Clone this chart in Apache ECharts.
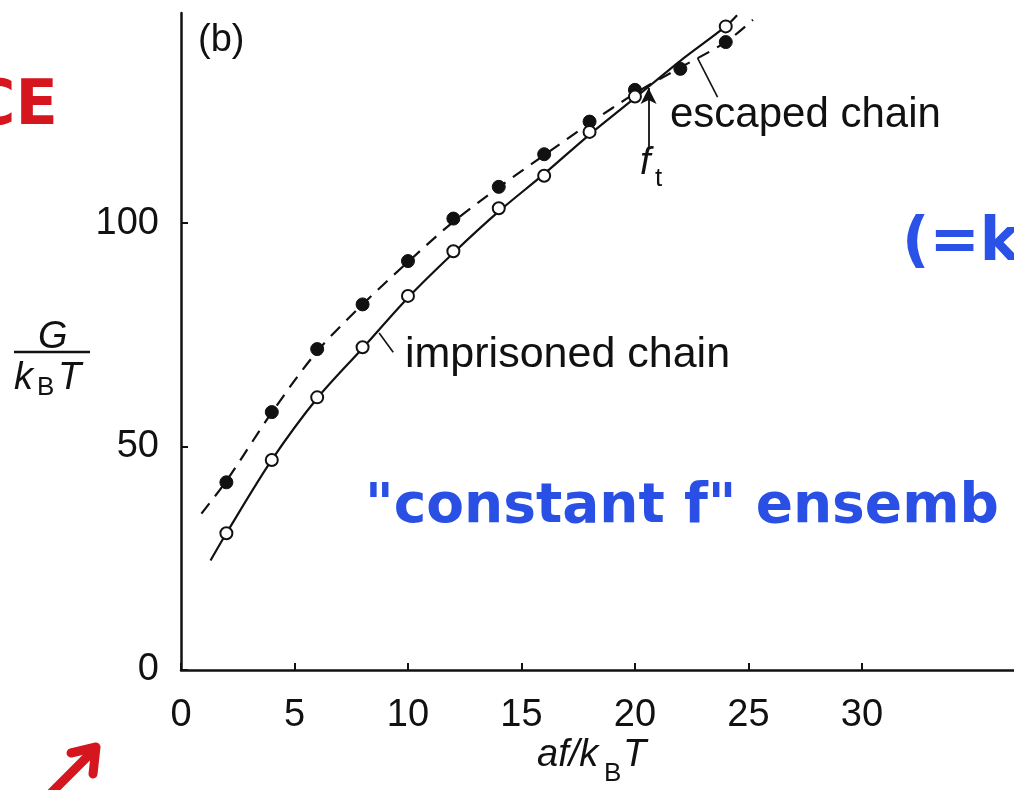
<!DOCTYPE html>
<html><head><meta charset="utf-8">
<script src="https://cdn.jsdelivr.net/npm/echarts@6/dist/echarts.min.js"></script>
<style>html,body{margin:0;padding:0;background:#fff}#c{width:1014px;height:790px}</style>
</head><body><div id="c"></div>
<script>
// ---- data ----
const xTicks = [0, 5, 10, 15, 20, 25, 30];
const yTicks = [0, 50, 100];
const imprisonedX = [2, 4, 6, 8, 10, 12, 14, 16, 18, 20, 24];
const imprisonedY = [30.6, 47, 61, 72.2, 83.7, 93.7, 103.3, 110.6, 120.4, 128.3, 144];
const escapedX = [2, 4, 6, 8, 10, 12, 14, 16, 18, 20, 22, 24];
const escapedY = [42, 57.7, 71.8, 81.8, 91.5, 101, 108.1, 115.4, 122.7, 129.8, 134.5, 140.5];
const imprisonedCurveX = [1.3, 2, 4, 6, 8, 10, 12, 14, 16, 18, 20, 22, 24, 24.5];
const imprisonedCurveY = [24.5, 30.6, 47, 60.8, 72, 83.3, 93.3, 102.6, 111, 119.8, 128, 136.3, 144, 146.5];
const escapedCurveX = [0.9, 2, 4, 6, 8, 10, 12, 14, 16, 18, 20, 22, 24, 25.2];
const escapedCurveY = [35, 42.3, 57.6, 71.3, 81.8, 91.3, 100.3, 108, 115.2, 122.3, 129, 134.8, 140.5, 145.5];
const transitionForce = 20.6;

const zip = (xs, ys) => xs.map((x, i) => [x, ys[i]]);
const FONT = '"Liberation Sans", Arial, Helvetica, sans-serif';
const HAND = '"DejaVu Sans", sans-serif';

const chart = echarts.init(document.getElementById('c'), null, {renderer: 'canvas'});
const axisCommon = {
  type: 'value',
  axisLine: {show: true, onZero: false, lineStyle: {color: '#111', width: 2.5}},
  axisTick: {show: true, inside: true, length: 7, lineStyle: {color: '#111', width: 2}},
  axisLabel: {color: '#111', fontSize: 38, fontFamily: FONT},
  splitLine: {show: false}
};
chart.setOption({
  animation: false,
  backgroundColor: '#fff',
  grid: {left: 181, right: 0, top: 13, bottom: 120, containLabel: false},
  xAxis: Object.assign({}, axisCommon, {
    min: 0, max: 36.7, interval: 5,
    axisTick: Object.assign({}, axisCommon.axisTick, {customValues: xTicks}),
    axisLabel: Object.assign({}, axisCommon.axisLabel, {customValues: xTicks, margin: 27})
  }),
  yAxis: Object.assign({}, axisCommon, {
    min: 0, max: 147, interval: 50,
    axisTick: Object.assign({}, axisCommon.axisTick, {customValues: yTicks}),
    axisLabel: Object.assign({}, axisCommon.axisLabel, {customValues: yTicks, margin: 22})
  }),
  series: [
    {type: 'line', data: zip(escapedCurveX, escapedCurveY), smooth: 0.3, symbol: 'none',
     lineStyle: {color: '#111', width: 2.2, type: [13, 9]}, z: 2},
    {type: 'line', data: zip(imprisonedCurveX, imprisonedCurveY), smooth: 0.3, symbol: 'none',
     lineStyle: {color: '#111', width: 2.2}, z: 2,
     markLine: {silent: true, symbol: 'none', label: {show: false},
       lineStyle: {color: '#111', width: 1.6, type: 'solid'},
       data: [
         [{coord: [22.76, 136.9]}, {coord: [23.64, 128.2]}],
         [{coord: [8.73, 75.4]}, {coord: [9.35, 71.1]}]
       ]}},
    {type: 'line', data: [], symbol: 'none',
     markLine: {silent: true, symbol: ['none', 'arrow'], symbolSize: [12, 16], label: {show: false},
       lineStyle: {color: '#111', width: 1.8, type: 'solid'},
       data: [[{coord: [transitionForce, 117]}, {coord: [transitionForce, 130.2]}]]}},
    {type: 'scatter', data: zip(escapedX, escapedY), symbol: 'circle', symbolSize: 13,
     itemStyle: {color: '#111', borderColor: '#111', borderWidth: 1, opacity: 1}, z: 5},
    {type: 'scatter', data: zip(imprisonedX, imprisonedY), symbol: 'circle', symbolSize: 12,
     itemStyle: {color: '#fff', borderColor: '#111', borderWidth: 2, opacity: 1}, z: 6}
  ],
  graphic: [
    {type: 'text', left: 198, top: 22, style: {text: '(b)', font: '38px ' + FONT, fill: '#111'}},
    {type: 'text', left: 670, top: 94, style: {text: 'escaped chain', font: '42px ' + FONT, fill: '#111'}},
    {type: 'text', left: 405, top: 334, style: {text: 'imprisoned chain', font: '43px ' + FONT, fill: '#111'}},
    {type: 'text', left: 640, top: 144, style: {text: 'f', font: 'italic 38px ' + FONT, fill: '#111'}},
    {type: 'text', left: 655, top: 166, style: {text: 't', font: '26px ' + FONT, fill: '#111'}},
    // y-axis title G / kB T
    {type: 'text', left: 38, top: 318, style: {text: 'G', font: 'italic 38px ' + FONT, fill: '#111'}},
    {type: 'line', shape: {x1: 14, y1: 352, x2: 90, y2: 352}, style: {stroke: '#111', lineWidth: 2.5}},
    {type: 'text', left: 14, top: 359, style: {text: 'k', font: 'italic 38px ' + FONT, fill: '#111'}},
    {type: 'text', left: 37, top: 375, style: {text: 'B', font: '26px ' + FONT, fill: '#111'}},
    {type: 'text', left: 58, top: 359, style: {text: 'T', font: 'italic 38px ' + FONT, fill: '#111'}},
    // x-axis title af/kB T
    {type: 'text', left: 537, top: 736, style: {text: 'af/k', font: 'italic 38px ' + FONT, fill: '#111'}},
    {type: 'text', left: 604, top: 761, style: {text: 'B', font: '26px ' + FONT, fill: '#111'}},
    {type: 'text', left: 623, top: 736, style: {text: 'T', font: 'italic 38px ' + FONT, fill: '#111'}},
    // handwritten overlays
    {type: 'text', x: -30, y: 77, style: {text: 'CE', font: 'bold 62px ' + HAND, fill: '#d5161e'}},
    {type: 'text', x: 902, y: 214, style: {text: '(=k', font: 'bold 60px ' + HAND, fill: '#2b52e6'}},
    {type: 'text', x: 365, y: 480, style: {text: '"constant f" ensemb', font: 'bold 55px ' + HAND, fill: '#2a4fe4'}},
    {type: 'polyline', shape: {points: [[44, 800], [92, 752]]}, style: {stroke: '#d5161e', lineWidth: 9, lineCap: 'round'}},
    {type: 'polyline', shape: {points: [[71, 753], [96, 747], [93, 774]]}, style: {stroke: '#d5161e', lineWidth: 9, lineCap: 'round', lineJoin: 'round', fill: null}}
  ]
});
</script></body></html>
